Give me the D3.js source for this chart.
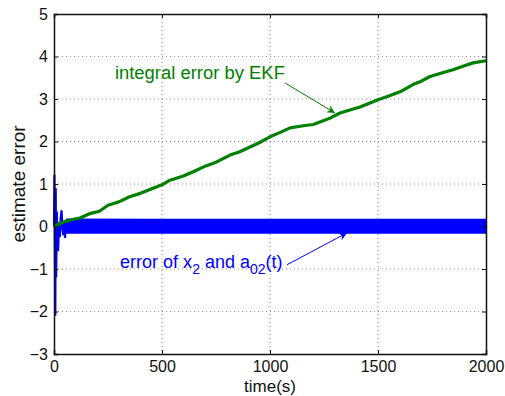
<!DOCTYPE html>
<html>
<head>
<meta charset="utf-8">
<script src="https://cdn.jsdelivr.net/npm/d3@7"></script>
<style>
  body { margin: 0; background: #fff; }
  text { font-family: "Liberation Sans", Arial, Helvetica, sans-serif; }
</style>
</head>
<body>
<svg id="chart" width="505" height="396"></svg>
<script>
// integral error by EKF (green)
var greenT = [0, 40, 80, 120, 170, 210, 250, 300, 350, 400, 444, 500, 537, 599, 650, 700, 753, 815, 860, 907, 950, 1000, 1050, 1093, 1154, 1200, 1231, 1278, 1324, 1370, 1417, 1460, 1500, 1550, 1602, 1662, 1700, 1741, 1787, 1847, 1900, 1940, 2000];
var greenV = [0, 0.1, 0.16, 0.2, 0.31, 0.36, 0.5, 0.58, 0.7, 0.78, 0.87, 0.98, 1.09, 1.19, 1.3, 1.42, 1.52, 1.68, 1.76, 1.87, 1.97, 2.11, 2.22, 2.32, 2.37, 2.4, 2.46, 2.55, 2.67, 2.74, 2.81, 2.9, 2.98, 3.07, 3.17, 3.34, 3.42, 3.53, 3.6, 3.69, 3.78, 3.85, 3.9];

// error of x2 and a02(t) (blue): start transient, then a dense band
var blueT = [0, 2, 4, 6, 8, 10, 13, 16, 19, 23, 27, 31, 35, 39, 43, 47, 51, 55, 60];
var blueV = [0, 1.22, -0.4, -2.1, 0.9, -1.2, 0.35, -0.3, -0.58, 0.1, -0.25, 0.2, 0.38, -0.05, -0.2, 0.1, -0.27, 0.15, -0.12];
var bandT = [55, 500, 1000, 1500, 2000];
var bandHi = [0.19, 0.18, 0.18, 0.18, 0.18];
var bandLo = [-0.17, -0.17, -0.17, -0.17, -0.17];

var xTicks = [0, 500, 1000, 1500, 2000];
var yTicks = [-3, -2, -1, 0, 1, 2, 3, 4, 5];

var margin = {top: 14, right: 19, bottom: 42, left: 54},
    width = 505 - margin.left - margin.right,
    height = 396 - margin.top - margin.bottom;

var svg = d3.select('#chart');
var g = svg.append('g').attr('transform', 'translate(' + margin.left + ',' + margin.top + ')');

var x = d3.scaleLinear().domain([0, 2000]).range([0, width]);
var y = d3.scaleLinear().domain([-3, 5]).range([height, 0]);

var fmt = function(d){ return d < 0 ? '\u2212' + Math.abs(d) : '' + d; };

// grid
g.selectAll('.gx').data(xTicks.slice(1, -1)).join('line')
    .attr('x1', d => x(d)).attr('x2', d => x(d))
    .attr('y1', 0).attr('y2', height)
    .attr('stroke', '#888').attr('stroke-dasharray', '1,3');
g.selectAll('.gy').data(yTicks.slice(1, -1)).join('line')
    .attr('x1', 0).attr('x2', width)
    .attr('y1', d => y(d)).attr('y2', d => y(d))
    .attr('stroke', '#888').attr('stroke-dasharray', '1,3');

// blue band + transient
var band = d3.area().x((d, i) => x(bandT[i])).y0((d, i) => y(bandLo[i])).y1((d, i) => y(bandHi[i]));
g.append('path').datum(bandT).attr('d', band).attr('fill', '#0000ff');

var blueLine = d3.line().x((d, i) => x(blueT[i])).y((d, i) => y(blueV[i]));
g.append('path').datum(blueT).attr('d', blueLine)
    .attr('fill', 'none').attr('stroke', '#0000ff').attr('stroke-width', 2.2);

// green line
var greenLine = d3.line().x((d, i) => x(greenT[i])).y((d, i) => y(greenV[i]));
g.append('path').datum(greenT).attr('d', greenLine)
    .attr('fill', 'none').attr('stroke', '#008000').attr('stroke-width', 3.2)
    .attr('stroke-linejoin', 'round');

// axes box and inward ticks
var tickLen = 4;
var xAxB = d3.axisBottom(x).tickValues(xTicks).tickSize(-tickLen).tickPadding(7).tickFormat(fmt);
var xAxT = d3.axisTop(x).tickValues(xTicks).tickSize(-tickLen).tickFormat('');
var yAxL = d3.axisLeft(y).tickValues(yTicks).tickSize(-tickLen).tickPadding(6).tickFormat(fmt);
var yAxR = d3.axisRight(y).tickValues(yTicks).tickSize(-tickLen).tickFormat('');

g.append('g').attr('transform', 'translate(0,' + height + ')').call(xAxB);
g.append('g').call(xAxT);
g.append('g').call(yAxL);
g.append('g').attr('transform', 'translate(' + width + ',0)').call(yAxR);

g.selectAll('.domain').attr('stroke', '#111').attr('stroke-width', 1.5);
g.selectAll('.tick line').attr('stroke', '#111');
g.selectAll('.tick text').attr('fill', '#111').style('font-size', '16px')
    .style('font-family', '"Liberation Sans", Arial, sans-serif');

// axis labels
svg.append('text').attr('x', margin.left + width / 2).attr('y', 392)
    .attr('text-anchor', 'middle').style('font-size', '17px').attr('fill', '#111')
    .text('time(s)');
svg.append('text').attr('transform', 'translate(25,' + (margin.top + height / 2) + ') rotate(-90)')
    .attr('text-anchor', 'middle').style('font-size', '19px').attr('fill', '#111')
    .text('estimate error');

// arrowheads
var defs = svg.append('defs');
[['headG', '#008000'], ['headB', '#0000ff']].forEach(function(m){
  defs.append('marker').attr('id', m[0]).attr('viewBox', '0 0 10 10')
      .attr('refX', 10).attr('refY', 5).attr('markerWidth', 11).attr('markerHeight', 8)
      .attr('markerUnits', 'userSpaceOnUse').attr('orient', 'auto')
    .append('path').attr('d', 'M0,0 L10,5 L0,10 L3,5 Z').attr('fill', m[1]);
});

// annotations
g.append('line').attr('x1', x(1069)).attr('y1', y(3.38)).attr('x2', x(1301)).attr('y2', y(2.67))
    .attr('stroke', '#008000').attr('stroke-width', 1).attr('marker-end', 'url(#headG)');
g.append('text').attr('x', x(282)).attr('y', y(3.47))
    .attr('fill', '#008000').style('font-size', '17.5px')
    .attr('textLength', 170).attr('lengthAdjust', 'spacingAndGlyphs')
    .text('integral error by EKF');

g.append('line').attr('x1', x(1079)).attr('y1', y(-0.9)).attr('x2', x(1356)).attr('y2', y(-0.15))
    .attr('stroke', '#0000ff').attr('stroke-width', 1).attr('marker-end', 'url(#headB)');
var bt = g.append('text').attr('x', x(306)).attr('y', y(-0.98))
    .attr('fill', '#0000ff').style('font-size', '18px');
bt.append('tspan').text('error of x');
bt.append('tspan').attr('dy', 6).style('font-size', '14px').text('2');
bt.append('tspan').attr('dy', -6).text(' and a');
bt.append('tspan').attr('dy', 6).style('font-size', '14px').text('02');
bt.append('tspan').attr('dy', -6).text('(t)');
</script>
</body>
</html>
